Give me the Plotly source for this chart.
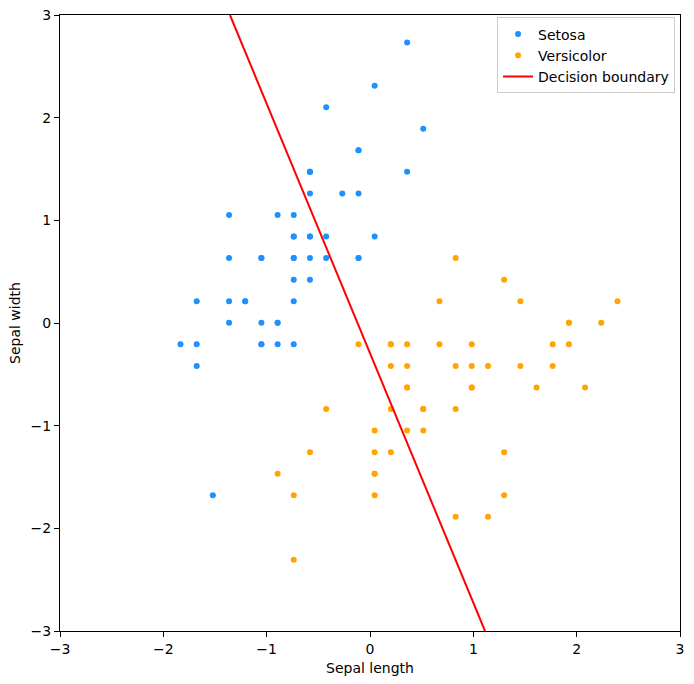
import plotly.graph_objects as go

setosa_x = [-0.581, -0.894, -1.208, -1.364, -0.738, -0.111, -1.364, -0.738, -1.677, -0.894,
            -0.111, -1.051, -1.051, -1.834, 0.515, 0.359, -0.111, -0.581, 0.359, -0.581,
            -0.111, -0.581, -1.364, -0.581, -1.051, -0.738, -0.738, -0.424, -0.424, -1.208,
            -1.051, -0.111, -0.424, 0.045, -0.894, -0.738, 0.045, -0.894, -1.677, -0.581,
            -0.738, -1.521, -1.677, -0.738, -0.581, -1.051, -0.581, -1.364, -0.268, -0.738]
setosa_y = [0.842, -0.208, 0.212, 0.002, 1.052, 1.682, 0.632, 0.632, -0.418, 0.002,
            1.262, 0.632, -0.208, -0.208, 1.892, 2.731, 1.682, 0.842, 1.472, 1.472,
            0.632, 1.262, 1.052, 0.422, 0.632, -0.208, 0.632, 0.842, 0.632, 0.212,
            0.002, 0.632, 2.102, 2.312, 0.002, 0.212, 0.842, 1.052, -0.208, 0.632,
            0.842, -1.677, 0.212, 0.842, 1.472, -0.208, 1.472, 0.212, 1.262, 0.422]

versicolor_x = [2.395, 1.455, 2.238, 0.045, 1.612, 0.359, 1.298, -0.894, 1.768, -0.424,
                -0.738, 0.672, 0.829, 0.985, 0.202, 1.925, 0.202, 0.515, 1.142, 0.202,
                0.672, 0.985, 1.298, 0.985, 1.455, 1.768, 2.081, 1.925, 0.829, 0.359,
                0.045, 0.045, 0.515, 0.829, -0.111, 0.829, 1.925, 1.298, 0.202, 0.045,
                0.045, 0.985, 0.515, -0.738, 0.202, 0.359, 0.359, 1.142, -0.581, 0.359]
versicolor_y = [0.212, 0.212, 0.002, -1.677, -0.628, -0.628, 0.422, -1.468, -0.418, -0.838,
                -2.307, -0.208, -1.887, -0.418, -0.418, 0.002, -0.208, -0.838, -1.887, -1.258,
                0.212, -0.628, -1.258, -0.628, -0.418, -0.208, -0.628, -0.208, -0.418, -1.048,
                -1.468, -1.468, -0.838, -0.838, -0.208, 0.632, 0.002, -1.677, -0.208, -1.258,
                -1.048, -0.208, -1.048, -1.677, -0.838, -0.208, -0.418, -0.418, -1.258, -0.628]

boundary_x = [-1.355, 1.113]
boundary_y = [3.0, -3.0]

tick_vals = [-3, -2, -1, 0, 1, 2, 3]

FONT = "DejaVu Sans"
FS = 14

fig = go.Figure()
fig.add_trace(go.Scatter(x=setosa_x, y=setosa_y, mode="markers", name="Setosa",
                         marker=dict(color="#1E90FF", size=6, line=dict(width=0))))
fig.add_trace(go.Scatter(x=versicolor_x, y=versicolor_y, mode="markers", name="Versicolor",
                         marker=dict(color="#FFA500", size=6, line=dict(width=0))))
fig.add_trace(go.Scatter(x=boundary_x, y=boundary_y, mode="lines", name="Decision boundary",
                         line=dict(color="red", width=2)))

axis_common = dict(
    range=[-3, 3], tickvals=tick_vals, ticks="outside", ticklen=5, tickwidth=1,
    tickcolor="black", showline=True, linecolor="black", linewidth=1, mirror=True,
    showgrid=False, zeroline=False, automargin=False,
    tickfont=dict(family=FONT, size=FS, color="black"),
)

fig.update_layout(
    width=694, height=684,
    margin=dict(l=60, r=14, t=15, b=53),
    paper_bgcolor="white", plot_bgcolor="white",
    font=dict(family=FONT, size=FS, color="black"),
    showlegend=True,
    legend=dict(x=0.992, y=0.996, xanchor="right", yanchor="top",
                bordercolor="#cccccc", borderwidth=1, bgcolor="rgba(255,255,255,0.8)",
                font=dict(family=FONT, size=FS), tracegroupgap=0),
    xaxis=dict(title=dict(text="Sepal length", standoff=7, font=dict(family=FONT, size=FS)), **axis_common),
    yaxis=dict(title=dict(text="Sepal width", standoff=6, font=dict(family=FONT, size=FS)), **axis_common),
)

fig.write_html("out.html")
